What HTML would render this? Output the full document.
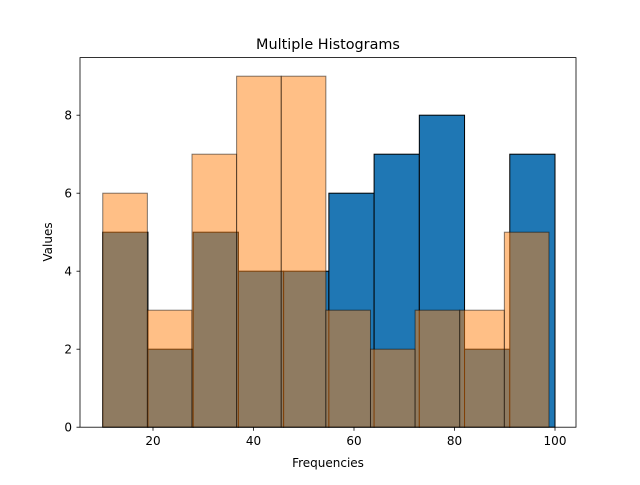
<!DOCTYPE html>
<html><head><meta charset="utf-8"><style>
body{margin:0;background:#fff;}
svg text{font-family:"DejaVu Sans","Liberation Sans",sans-serif;fill:#000;}
</style></head><body>
<svg id="chart" width="640" height="480" xmlns="http://www.w3.org/2000/svg">
<rect width="640" height="480" fill="#fff"/>
<g id="bars"></g>
<rect x="80" y="57.6" width="496" height="369.6" fill="none" stroke="#000" stroke-width="0.8"/>
<g id="axes"></g>
<text x="328" y="49" font-size="14.4" text-anchor="middle">Multiple Histograms</text>
<text x="328" y="467" font-size="12" text-anchor="middle">Frequencies</text>
<text x="0" y="0" font-size="12" text-anchor="middle" transform="translate(52,242) rotate(-90)">Values</text>
</svg>
<script>
const blueEdges=[10,100];
const blueCounts=[5,2,5,4,4,6,7,8,2,7];
const orangeEdges=[10,98.8];
const orangeCounts=[6,3,7,9,9,3,2,3,3,5];
const xTicks=[20,40,60,80,100];
const yTicks=[0,2,4,6,8];
const NS="http://www.w3.org/2000/svg";
const X=v=>102.75+(v-10)*5.025;
const Y=v=>427.2-v*39.0;
const bars=document.getElementById('bars'),axes=document.getElementById('axes');
function drawHist(edges,counts,fill,op,eop,name){
  const w=(edges[1]-edges[0])/counts.length;
  counts.forEach((c,i)=>{
    const r=document.createElementNS(NS,'rect');
    const x0=X(edges[0]+i*w),x1=X(edges[0]+(i+1)*w);
    r.setAttribute('x',x0);r.setAttribute('y',Y(c));
    r.setAttribute('width',x1-x0);r.setAttribute('height',Y(0)-Y(c));
    r.setAttribute('fill',fill);r.setAttribute('fill-opacity',op);
    r.setAttribute('stroke','#000');r.setAttribute('stroke-opacity',eop);r.setAttribute('stroke-width','1');
    
    
    bars.appendChild(r);
  });
}
drawHist(blueEdges,blueCounts,'#1f77b4',1,1,'blue');
drawHist(orangeEdges,orangeCounts,'#ff7f0e',0.5,0.5,'orange');
xTicks.forEach(t=>{
  const l=document.createElementNS(NS,'line');
  l.setAttribute('x1',X(t));l.setAttribute('x2',X(t));l.setAttribute('y1',427.2);l.setAttribute('y2',430.7);
  l.setAttribute('stroke','#000');l.setAttribute('stroke-width','0.8');
  
  
  axes.appendChild(l);
  const tx=document.createElementNS(NS,'text');
  tx.setAttribute('x',X(t));tx.setAttribute('y',445);tx.setAttribute('font-size','12');tx.setAttribute('text-anchor','middle');
  tx.textContent=t;
  
  
  axes.appendChild(tx);
});
yTicks.forEach(t=>{
  const l=document.createElementNS(NS,'line');
  l.setAttribute('x1',76.5);l.setAttribute('x2',80);l.setAttribute('y1',Y(t));l.setAttribute('y2',Y(t));
  l.setAttribute('stroke','#000');l.setAttribute('stroke-width','0.8');
  
  
  axes.appendChild(l);
  const tx=document.createElementNS(NS,'text');
  tx.setAttribute('x',72);tx.setAttribute('y',Y(t)+4.5);tx.setAttribute('font-size','12');tx.setAttribute('text-anchor','end');
  tx.textContent=t;
  
  
  axes.appendChild(tx);
});
</script>
</body></html>
